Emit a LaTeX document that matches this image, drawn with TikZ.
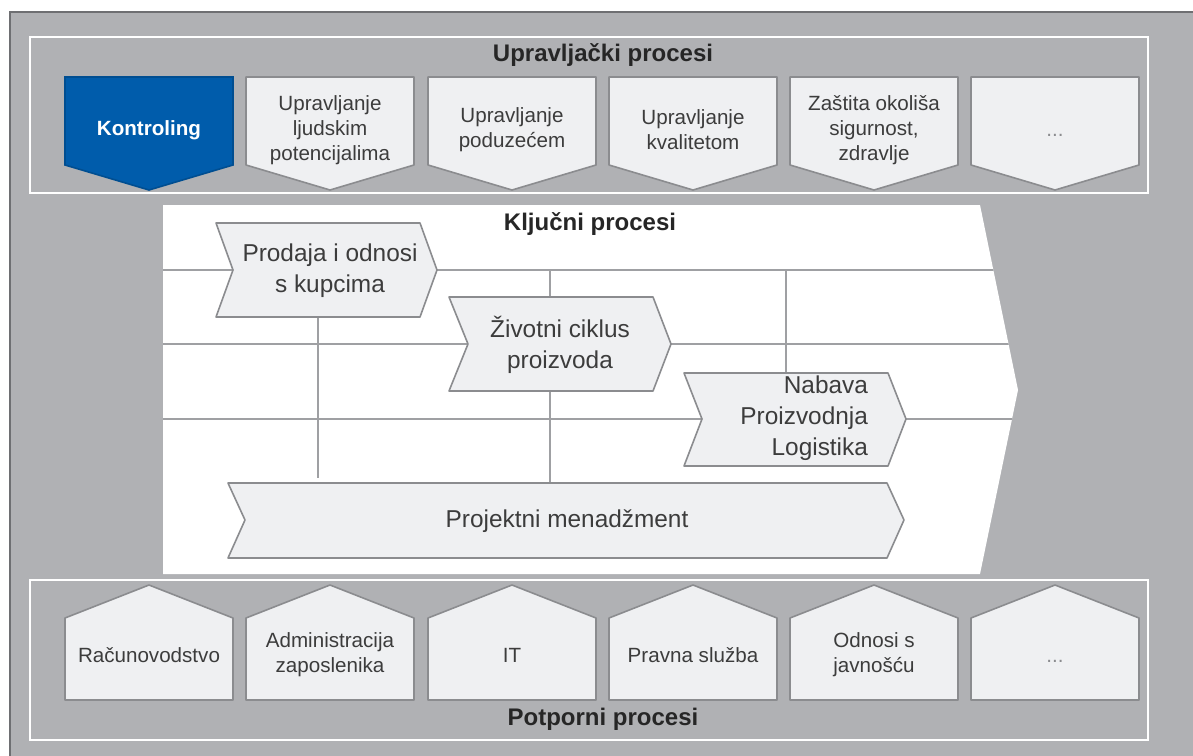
\documentclass[tikz,border=0pt]{standalone}
\usepackage{fontspec}
\setmainfont{Liberation Sans}

\definecolor{rahmen}{HTML}{6E6F72}
\definecolor{sivo}{HTML}{B0B1B4}
\definecolor{svijetlo}{HTML}{EFF0F2}
\definecolor{obrub}{HTML}{8B8C8F}
\definecolor{plava}{HTML}{005CAB}
\definecolor{tekst}{HTML}{3C3C3C}
\definecolor{mreza}{HTML}{9FA0A3}

\tikzset{
  oblik/.style={fill=svijetlo, draw=obrub, line width=0.8pt, line join=round},
  okvir/.style={draw=white, line width=1pt},
  naslov/.style={font=\bfseries\fontsize{12}{14}\selectfont, text=black!85},
  mali/.style={font=\fontsize{10.3}{12.4}\selectfont, text=tekst, align=center},
  veliki/.style={font=\fontsize{12.2}{15.5}\selectfont, text=tekst, align=center},
}

\begin{document}
\begin{tikzpicture}[x=0.5pt,y=-0.5pt]
    \useasboundingbox (0,0) rectangle (1193,755);

    % pozadina
    \fill[sivo] (10,12) rectangle (1200,760);
    \draw[rahmen, line width=1.2pt] (1200,12) -- (10,12) -- (10,760);

    % upravljacki procesi
    \draw[okvir] (30,37) rectangle (1148,193);
    \node[naslov] (gore) at (603,55) {Upravljački procesi};

    \draw[fill=plava, draw=plava!85!black, line width=0.8pt]
        (65,77) -- (233,77) -- (233,165) -- (149,190) -- (65,165) -- cycle;
    \node[mali, font=\bfseries\fontsize{10.3}{12.4}\selectfont, text=white] (kontroling) at (149,130) {Kontroling};

    \foreach \x/\ime/\txt in {246/ljudski/{Upravljanje\\ljudskim\\potencijalima},
                              428/poduzece/{Upravljanje\\poduzećem},
                              609/kvaliteta/{Upravljanje\\kvalitetom},
                              790/okolis/{Zaštita okoliša\\sigurnost,\\zdravlje}} {
        \draw[oblik] (\x,77) -- (\x+168,77) -- (\x+168,165) -- (\x+84,190) -- (\x,165) -- cycle;
        \node[mali] (\ime) at (\x+84,130) {\txt};
    }
    \draw[oblik] (971,77) -- (1139,77) -- (1139,165) -- (1055,190) -- (971,165) -- cycle;
    \node[mali, text=obrub] (ostaloGore) at (1055,135) {...};

    % kljucni procesi
    \fill[white] (163,205) -- (980,205) -- (1018,390) -- (980,574) -- (163,574) -- cycle;
    \begin{scope}
        \clip (163,205) -- (980,205) -- (1018,390) -- (980,574) -- (163,574) -- cycle;
        \draw[mreza, line width=0.8pt] (163,270) -- (1040,270);
        \draw[mreza, line width=0.8pt] (163,344) -- (1040,344);
        \draw[mreza, line width=0.8pt] (163,419) -- (1040,419);
    \end{scope}
    \draw[mreza, line width=0.8pt] (318,317) -- (318,478);
    \draw[mreza, line width=0.8pt] (550,270) -- (550,483);
    \draw[mreza, line width=0.8pt] (786,270) -- (786,373);

    \node[naslov] (sredina) at (590,224) {Ključni procesi};

    \draw[oblik] (216,223) -- (420,223) -- (437,270) -- (420,317) -- (216,317) -- (233,270) -- cycle;
    \node[veliki] (prodaja) at (330,271) {Prodaja i odnosi\\s kupcima};

    \draw[oblik] (449,297) -- (653,297) -- (671,344) -- (653,391) -- (449,391) -- (468,344) -- cycle;
    \node[veliki] (ciklus) at (560,345) {Životni ciklus\\proizvoda};

    \draw[oblik] (684,373) -- (888,373) -- (906,419) -- (888,466) -- (684,466) -- (702,419) -- cycle;
    \node[veliki, align=right, anchor=east] (nabava) at (875,418) {Nabava\\Proizvodnja\\Logistika};

    \draw[oblik] (228,483) -- (887,483) -- (904,520) -- (887,558) -- (228,558) -- (245,520) -- cycle;
    \node[veliki] (projekt) at (567,521) {Projektni menadžment};

    % potporni procesi
    \draw[okvir] (30,580) rectangle (1148,740);
    \node[naslov] (dolje) at (603,719) {Potporni procesi};

    \foreach \x/\ime/\txt in {65/racunovodstvo/{Računovodstvo},
                              246/administracija/{Administracija\\zaposlenika},
                              428/it/{IT},
                              609/pravna/{Pravna služba},
                              790/javnost/{Odnosi s\\javnošću}} {
        \draw[oblik] (\x,618) -- (\x+84,585) -- (\x+168,618) -- (\x+168,700) -- (\x,700) -- cycle;
        \node[mali] (\ime) at (\x+84,655) {\txt};
    }
    \draw[oblik] (971,618) -- (1055,585) -- (1139,618) -- (1139,700) -- (971,700) -- cycle;
    \node[mali, text=obrub] (ostaloDolje) at (1055,661) {...};
\end{tikzpicture}
\end{document}
